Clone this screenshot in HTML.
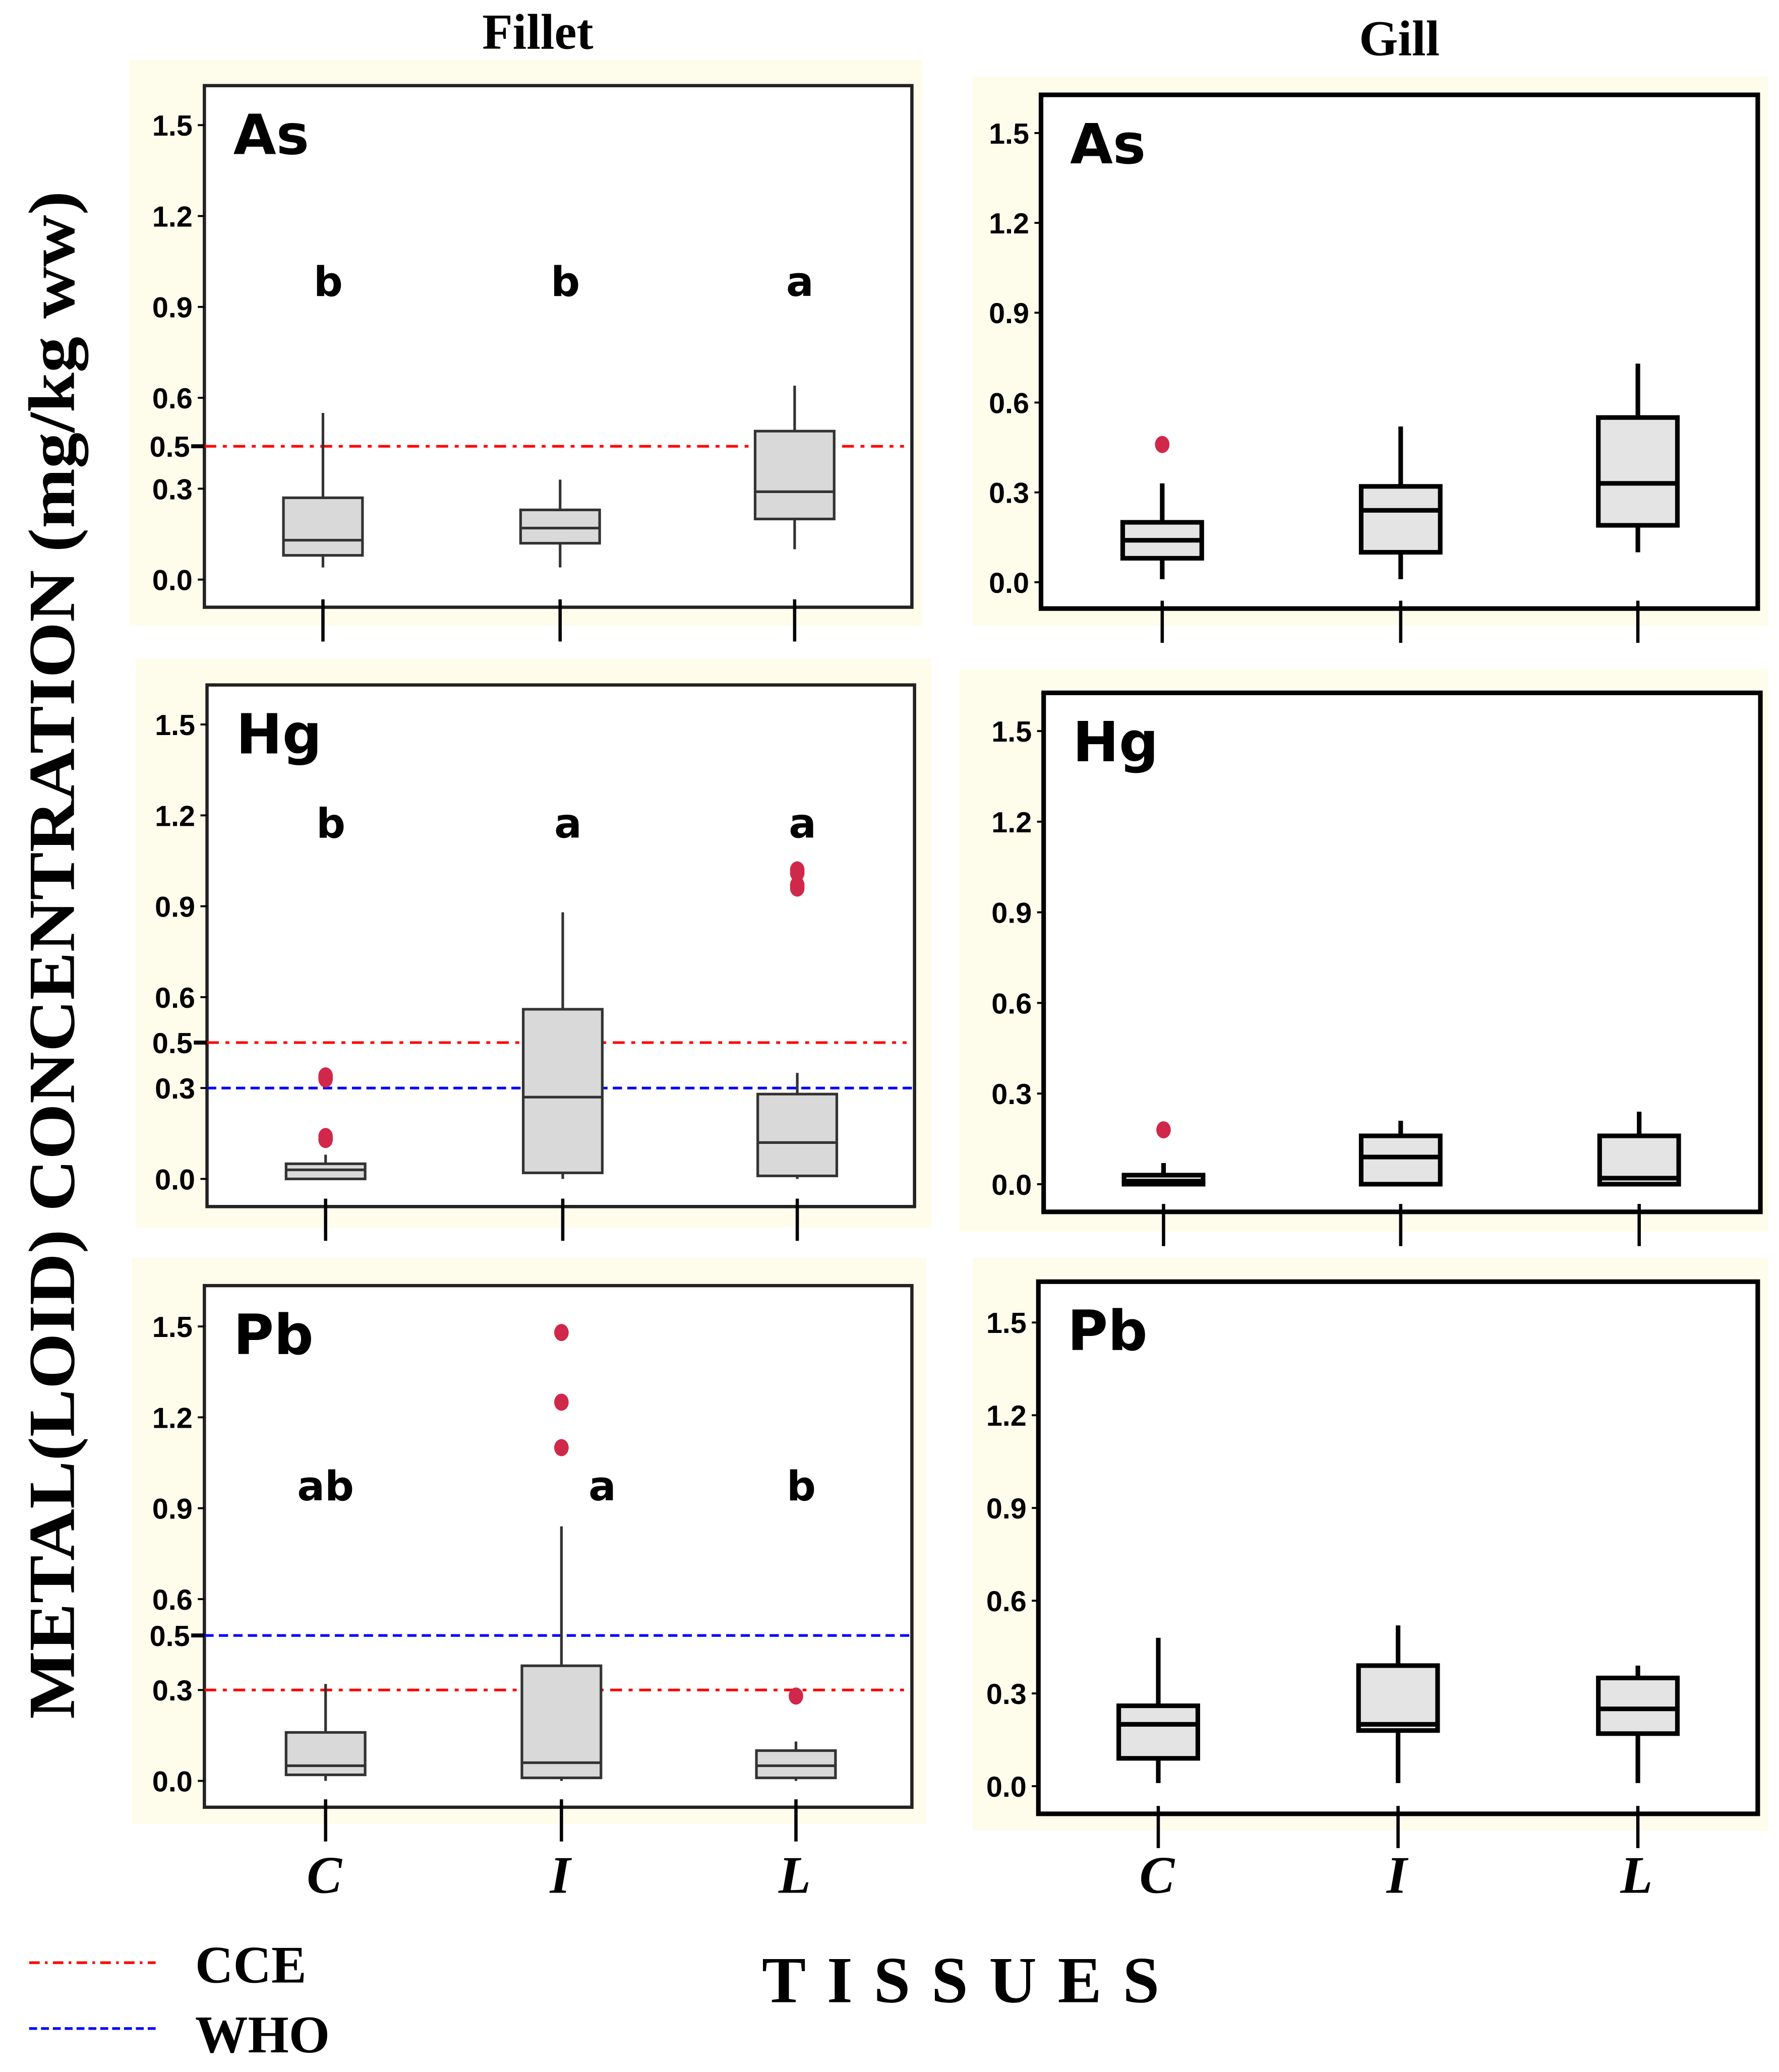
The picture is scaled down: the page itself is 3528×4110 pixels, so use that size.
<!DOCTYPE html>
<html><head><meta charset="utf-8"><style>
html,body{margin:0;padding:0;background:#fff}
svg{display:block}
</style></head><body>
<svg id="chart" xmlns="http://www.w3.org/2000/svg" width="3528" height="4110" viewBox="0 0 1350 1573">
<rect width="1350" height="1573" fill="#fff"/>
<text x="408" y="37" font-family="Liberation Serif, serif" font-weight="bold" font-size="38" text-anchor="middle">Fillet</text>
<text x="1062" y="42" font-family="Liberation Serif, serif" font-weight="bold" font-size="38" text-anchor="middle">Gill</text>
<text transform="translate(56,725) rotate(-90)" font-family="Liberation Serif, serif" font-weight="bold" font-size="50" text-anchor="middle" textLength="1160" lengthAdjust="spacingAndGlyphs">METAL(LOID) CONCENTRATION (mg/kg ww)</text>
<text x="737" y="1520" font-family="Liberation Serif, serif" font-weight="bold" font-size="50" text-anchor="middle" letter-spacing="16">TISSUES</text>
<g>
<line x1="22" y1="1490" x2="118" y2="1490" stroke="#f00" stroke-width="2" stroke-dasharray="8,4,2,4"/>
<text x="148" y="1505" font-family="Liberation Serif, serif" font-weight="bold" font-size="40">CCE</text>
<line x1="22" y1="1540" x2="118" y2="1540" stroke="#00f" stroke-width="2" stroke-dasharray="6,3"/>
<text x="148" y="1558" font-family="Liberation Serif, serif" font-weight="bold" font-size="40">WHO</text>
</g>
<g id="panels"></g>
</svg>
<script>
const categories = ["C","I","L"];
const yTicks = [0.0,0.3,0.6,0.9,1.2,1.5];
const yTickLabels = ["0.0","0.3","0.6","0.9","1.2","1.5"];
const elements = ["As","Hg","Pb"];
// [q1, median, q3, whiskerLow, whiskerHigh]
const filletAs = [[0.08,0.13,0.27,0.04,0.55],[0.12,0.17,0.23,0.04,0.33],[0.20,0.29,0.49,0.10,0.64]];
const filletHg = [[0.00,0.03,0.05,0.00,0.08],[0.02,0.27,0.56,0.00,0.88],[0.01,0.12,0.28,0.00,0.35]];
const filletPb = [[0.02,0.05,0.16,0.00,0.32],[0.01,0.06,0.38,0.00,0.84],[0.01,0.05,0.10,0.00,0.13]];
const gillAs = [[0.08,0.14,0.20,0.01,0.33],[0.10,0.24,0.32,0.01,0.52],[0.19,0.33,0.55,0.10,0.73]];
const gillHg = [[0.00,0.01,0.03,0.00,0.07],[0.00,0.09,0.16,0.00,0.21],[0.00,0.02,0.16,0.00,0.24]];
const gillPb = [[0.09,0.20,0.26,0.01,0.48],[0.18,0.20,0.39,0.01,0.52],[0.17,0.25,0.35,0.01,0.39]];
const filletAsOut = [[],[],[]];
const filletHgOut = [[0.33,0.34,0.13,0.14],[],[0.96,0.97,1.01,1.02]];
const filletPbOut = [[],[1.48,1.25,1.10],[0.28]];
const gillAsOut = [[0.46],[],[]];
const gillHgOut = [[0.18],[],[]];
const gillPbOut = [[],[],[]];
const filletAsLetters = ["b","b","a"];
const filletHgLetters = ["b","a","a"];
const filletPbLetters = ["ab","a","b"];
const letterValues = [0.98, 1.17, 0.97];
// limit line positions as drawn on the (linear) axis; "0.5" tick sits on the 0.5 limit line
const limitTickPos = [0.44, 0.45, 0.48];
const limitTickLabel = "0.5";
const cceValues = [0.44, 0.45, 0.30];
const whoValues = [null, 0.30, 0.48];

const NS="http://www.w3.org/2000/svg";
const root=document.getElementById('panels');
function mk(tag,attrs,parent){const e=document.createElementNS(NS,tag);for(const k in attrs)e.setAttribute(k,attrs[k]);(parent||root).appendChild(e);return e;}

const layouts=[
 {bg:[98,45,602,430],fr:[155,65,692,461],y0:440,y15:95,xs:[245,425,603]},
 {bg:[738,58,604,417],fr:[790,72,1334,462],y0:442,y15:101,xs:[882,1063,1243]},
 {bg:[103,500,604,432],fr:[157,520,694,916],y0:895,y15:550,xs:[247,427,605]},
 {bg:[728,508,614,427],fr:[792,526,1336,920],y0:899,y15:555,xs:[883,1063,1244]},
 {bg:[100,955,603,430],fr:[155,976,692,1372],y0:1352,y15:1007,xs:[247,426,604]},
 {bg:[738,955,604,435],fr:[788,973,1334,1377],y0:1356,y15:1004,xs:[879,1061,1243]}
];
const filletData=[filletAs,filletHg,filletPb], gillData=[gillAs,gillHg,gillPb];
const filletOut=[filletAsOut,filletHgOut,filletPbOut], gillOut=[gillAsOut,gillHgOut,gillPbOut];
const filletLetters=[filletAsLetters,filletHgLetters,filletPbLetters];

for(let r=0;r<3;r++){
 for(let c=0;c<2;c++){
  const L=layouts[r*2+c];
  const fillet=c===0;
  const data=fillet?filletData[r]:gillData[r];
  const outs=fillet?filletOut[r]:gillOut[r];
  const tissue=fillet?'fillet':'gill';
  const el=elements[r].toLowerCase();
  const ys=v=>L.y0-(v/1.5)*(L.y0-L.y15);
  const g=mk('g',{});
  
  
  mk('rect',{x:L.bg[0],y:L.bg[1],width:L.bg[2],height:L.bg[3],fill:'#fefdec'},g);
  const [fx1,fy1,fx2,fy2]=L.fr;
  const frame=mk('rect',{x:fx1,y:fy1,width:fx2-fx1,height:fy2-fy1,fill:'#fff',stroke:fillet?'#222':'#000','stroke-width':fillet?2.5:3.5},g);
  
  
  const sw=fillet?2:3.5, st=fillet?'#333':'#000';
  const ticks=yTicks.map((t,i)=>[t,yTickLabels[i],false]);
  if(fillet) ticks.push([limitTickPos[r],limitTickLabel,true]);
  ticks.forEach(([t,lb,lim])=>{
   const y=ys(t);
   mk('line',{x1:fx1-(lim?10:5),y1:y,x2:fx1,y2:y,stroke:'#000','stroke-width':lim?3:1.5},g);
   const tx=mk('text',{x:fx1-(lim?11:9),y:y+8,'text-anchor':'end','font-family':'Liberation Sans Narrow, Liberation Sans, sans-serif','font-weight':'bold','font-size':22},g);
   tx.textContent=lb;
   
   
  });
  const lab=mk('text',{x:fx1+22,y:fy1+52,'font-family':'DejaVu Sans, Liberation Sans, sans-serif','font-weight':'bold','font-size':42},g);
  lab.textContent=elements[r];
  
  
  if(fillet){
   const cy=ys(cceValues[r]);
   const cl=mk('line',{x1:fx1,y1:cy,x2:fx2-6,y2:cy,stroke:'#f00','stroke-width':2,'stroke-dasharray':'9,5,3,5'},g);
   
   
   if(whoValues[r]!==null){
    const wy=ys(whoValues[r]);
    const wl=mk('line',{x1:fx1,y1:wy,x2:fx2,y2:wy,stroke:'#00f','stroke-width':2,'stroke-dasharray':'7,4'},g);
    
    
   }
  }
  data.forEach((d,i)=>{
   const x=L.xs[i], hw=30;
   const [q1,med,q3,wl,wh]=d;
   const bg=mk('g',{},g);
   
   
   mk('line',{x1:x,y1:ys(wh),x2:x,y2:ys(q3),stroke:st,'stroke-width':sw},bg);
   mk('line',{x1:x,y1:ys(q1),x2:x,y2:ys(wl),stroke:st,'stroke-width':sw},bg);
   mk('rect',{x:x-hw,y:ys(q3),width:2*hw,height:Math.max(ys(q1)-ys(q3),1),fill:fillet?'#d9d9d9':'#e4e4e4',stroke:st,'stroke-width':sw},bg);
   mk('line',{x1:x-hw,y1:ys(med),x2:x+hw,y2:ys(med),stroke:st,'stroke-width':sw},bg);
   outs[i].forEach(o=>{
    const p=mk('ellipse',{cx:x,cy:ys(o),rx:5.5,ry:6.5,fill:'#d0284a'},bg);
    
    
   });
   mk('line',{x1:x,y1:fy2-6,x2:x,y2:fy2+26,stroke:'#000','stroke-width':2.5},g);
   if(fillet){
    const lt=mk('text',{x:x+(r===2&&i===1?27:0)+(r===2&&i===0?-4:0)+4,y:ys(letterValues[r])+10,'text-anchor':'middle','font-family':'DejaVu Sans, Liberation Sans, sans-serif','font-weight':'bold','font-size':31},g);
    lt.textContent=filletLetters[r][i];
    
    
   }
   if(r===2){
    const xl=mk('text',{x:x-1,y:1437,'text-anchor':'middle','font-family':'Liberation Serif, serif','font-weight':'bold','font-style':'italic','font-size':40},g);
    xl.textContent=categories[i];
    
    
   }
  });
 }
}
</script>
</body></html>
